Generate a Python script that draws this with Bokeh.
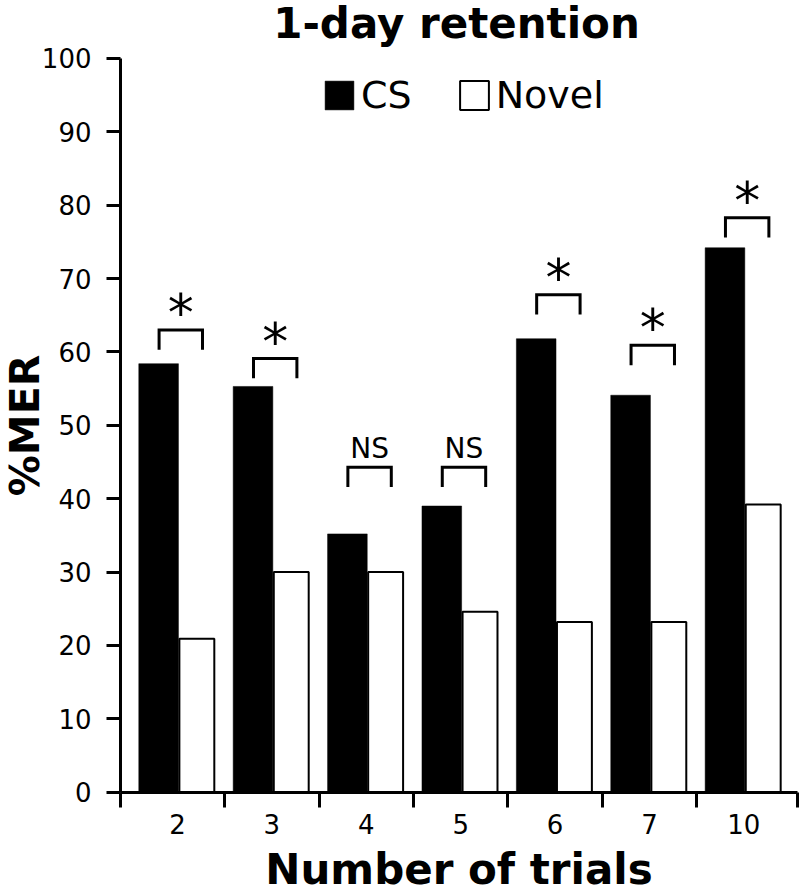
import numpy as np
from bokeh.plotting import figure
from bokeh.models import (Range1d, FixedTicker, Legend, LegendItem, Label,
                          ColumnDataSource)
from bokeh.core.properties import value
from bokeh.transform import dodge
from bokeh.embed import file_html
from bokeh.resources import INLINE

# ---------------- data ----------------
trials = ["2", "3", "4", "5", "6", "7", "10"]
cs = [58.4, 55.3, 35.2, 39.0, 61.8, 54.1, 74.2]
novel = [20.9, 30.0, 30.0, 24.6, 23.2, 23.2, 39.2]
sig = ["*", "*", "NS", "NS", "*", "*", "*"]
bracket_top = [63.0, 59.1, 44.3, 44.3, 67.8, 60.9, 78.3]
y_ticks = list(range(0, 101, 10))

FONT = "DejaVu Sans"
n = len(trials)
idx = list(range(n))

W, H = 800, 895
# axis extents (data units) and the visible canvas extents around them
x_left, x_right = -0.604, 6.568       # where the drawn x axis starts / ends
y_low, y_high = 0, 100                # drawn y axis
view_x = (-1.875, 6.600)
view_y = (-14.08, 107.9)

p = figure(width=W, height=H, x_range=Range1d(*view_x), y_range=Range1d(*view_y),
           output_backend="svg", toolbar_location=None, title=None,
           min_border_left=0, min_border_right=0, min_border_top=0, min_border_bottom=0)
p.outline_line_color = None
p.grid.visible = False
p.background_fill_color = "white"
p.border_fill_color = "white"

src = ColumnDataSource(dict(x=idx, cs=cs, novel=novel))
r_cs = p.vbar(x=dodge("x", -0.20), top="cs", width=0.42, bottom=0, source=src,
              fill_color="black", line_color="black", line_width=0.5)
r_nv = p.vbar(x=dodge("x", 0.205), top="novel", width=0.37, bottom=0, source=src,
              fill_color="white", line_color="black", line_width=2)

# significance brackets
leg = 2.7
xs = [[i - 0.195, i - 0.195, i + 0.265, i + 0.265] for i in idx]
ys = [[t - leg, t, t, t - leg] for t in bracket_top]
p.multi_line(xs=xs, ys=ys, line_color="black", line_width=3, line_join="miter")

star_src = ColumnDataSource(dict(
    x=[i + 0.035 for i, s in zip(idx, sig) if s == "*"],
    y=[t for t, s in zip(bracket_top, sig) if s == "*"],
    t=[s for s in sig if s == "*"]))
ns_src = ColumnDataSource(dict(
    x=[i + 0.035 for i, s in zip(idx, sig) if s != "*"],
    y=[t for t, s in zip(bracket_top, sig) if s != "*"],
    t=[s for s in sig if s != "*"]))
p.text(x="x", y="y", text="t", source=star_src, text_font=value(FONT),
       text_font_size="52px", text_align="center", text_baseline="alphabetic",
       y_offset=-17, text_color="black")
p.text(x="x", y="y", text="t", source=ns_src, text_font=value(FONT),
       text_font_size="28px", text_align="center", text_baseline="alphabetic",
       y_offset=-19, text_color="black")

# x axis (drawn at y = 0 inside the canvas)
xa = p.xaxis[0]
xa.fixed_location = y_low
xa.bounds = (x_left, x_right)
xa.ticker = FixedTicker(ticks=idx, minor_ticks=[x_left] + [i + 0.5 for i in idx[:-1]] + [x_right])
xa.major_label_overrides = {i: t for i, t in zip(idx, trials)}
xa.major_tick_out = 0
xa.major_tick_in = 0
xa.minor_tick_out = 15
xa.minor_tick_in = 0
xa.minor_tick_line_width = 3
xa.minor_tick_line_color = "black"
xa.axis_line_width = 3
xa.axis_line_color = "black"
xa.major_label_text_font = FONT
xa.major_label_text_font_size = "26px"
xa.major_label_text_color = "black"
xa.major_label_standoff = 7
xa.axis_label = "Number of trials"
xa.axis_label_text_font = FONT
xa.axis_label_text_font_size = "42px"
xa.axis_label_text_font_style = "bold"
xa.axis_label_text_color = "black"
xa.axis_label_standoff = 7

# y axis (drawn at the left end of the x axis)
ya = p.yaxis[0]
ya.fixed_location = x_left
ya.bounds = (y_low, y_high)
ya.ticker = FixedTicker(ticks=y_ticks, minor_ticks=[])
ya.major_tick_out = 14
ya.major_tick_in = 0
ya.major_tick_line_width = 3
ya.major_tick_line_color = "black"
ya.axis_line_width = 3
ya.axis_line_color = "black"
ya.major_label_text_font = FONT
ya.major_label_text_font_size = "26px"
ya.major_label_text_color = "black"
ya.major_label_standoff = 15
ya.axis_label = "%MER"
ya.axis_label_text_font = FONT
ya.axis_label_text_font_size = "41px"
ya.axis_label_text_font_style = "bold"
ya.axis_label_text_color = "black"
ya.axis_label_standoff = -10

# title
p.add_layout(Label(x=456, y=872, x_units="screen", y_units="screen",
                   text="1-day retention", text_align="center", text_baseline="middle",
                   text_font=FONT, text_font_size="42px", text_font_style="bold",
                   text_color="black"))

legend = Legend(items=[LegendItem(label="CS", renderers=[r_cs]),
                       LegendItem(label="Novel", renderers=[r_nv])],
                location=(321, 778), orientation="horizontal",
                glyph_width=36, glyph_height=36, label_height=36,
                label_text_font=FONT, label_text_font_size="38px",
                label_text_color="black", label_standoff=4, spacing=44,
                padding=0, margin=0, border_line_color=None,
                background_fill_alpha=0)
p.add_layout(legend)

open("out.html", "w").write(file_html(p, INLINE))
